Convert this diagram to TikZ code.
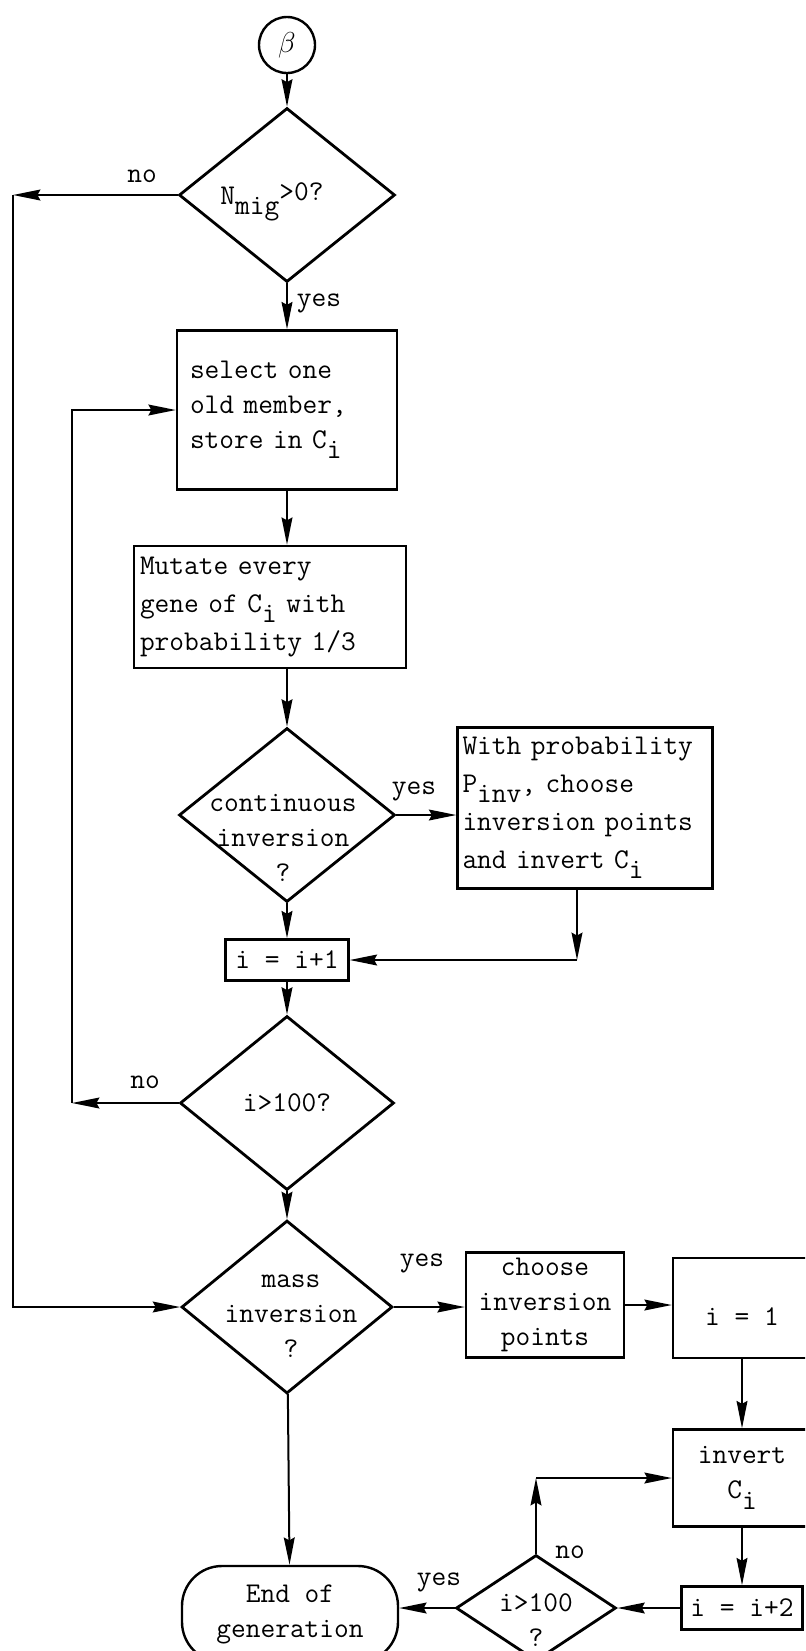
\documentclass[tikz,border=0pt]{standalone}
\usepackage{fontspec}
\usepackage{tikz}
\usetikzlibrary{arrows.meta,shapes.geometric}
\newcommand{\lowidx}[1]{\raisebox{-0.85ex}{#1}}
\tikzset{
	pbox/.style={draw=black,line width=1.2pt,rectangle,inner sep=0pt},
	dbox/.style={draw=black,line width=1.4pt,diamond,inner sep=0pt},
	ptext/.style={font=\ttfamily\fontsize{14.3}{17.5}\selectfont,inner sep=0pt},
	wtext/.style={font=\ttfamily\fontsize{14.3}{19}\selectfont},
	flowarrow/.style={-{Stealth[length=4.8mm,width=1.9mm,inset=0.5mm]},line width=1pt}
}

\begin{document}
\begin{tikzpicture}[x=0.5pt,y=-0.5pt,
			lbl/.style={ptext,align=center}]
			\useasboundingbox (0,0) rectangle (805,1651);
			\clip (0,0) rectangle (805,1651);
			\node[draw,circle,line width=1.2pt,minimum size=28pt,inner sep=0pt,font=\fontsize{14.3}{17}\selectfont] (beta) at (287,45) {$\beta$};
			\node[dbox,minimum width=108pt,minimum height=87pt] (mig) at (287,195) {};
			\node[lbl] (migt) at (272,202) {N\lowidx{mig}\raisebox{0.3ex}{>0?}};
			\node[pbox,ptext,align=left,text width=97pt,inner xsep=6.5pt,minimum height=79.5pt] (sel) at (287,410) {select one\\old member,\\store in C\lowidx{i}};
			\node[pbox,ptext,wtext,align=left,text width=130pt,inner xsep=3pt,minimum height=61pt] (mut) at (270,607) {Mutate every\\gene of C\lowidx{i} with\\probability 1/3};
			\node[dbox,minimum width=108pt,minimum height=87pt] (cont) at (287,815) {};
			\node[lbl] (contt) at (283,838) {continuous\\inversion\\?};
			\node[pbox,ptext,wtext,align=left,text width=122.5pt,inner xsep=2.5pt,minimum height=80.5pt] (pinv) at (585,808) {With probability\\P\lowidx{inv}, choose\\inversion points\\and invert C\lowidx{i}};
			\node[pbox,ptext,minimum width=61.5pt,minimum height=20.5pt] (inc) at (287,960) {i = i+1};
			\node[dbox,minimum width=107pt,minimum height=87pt] (lim) at (287,1103) {};
			\node[lbl] (limt) at (287,1103) {i>100?};
			\node[dbox,minimum width=105.5pt,minimum height=86.5pt] (mass) at (287,1307) {};
			\node[lbl] (masst) at (291,1316) {mass\\inversion\\?};
			\node[pbox,ptext,align=center,minimum width=79pt,minimum height=52.5pt] (cho) at (545,1305) {choose\\inversion\\points};
			\node[pbox,ptext,align=center,minimum width=69pt,minimum height=50pt] (one) at (742,1308) {\mbox{}\\i = 1};
			\node[pbox,ptext,align=center,minimum width=69pt,minimum height=48.5pt] (inv) at (742,1478) {invert\\C\lowidx{i}};
			\node[pbox,ptext,minimum width=60.5pt,minimum height=21.5pt] (inc2) at (742,1608) {i = i+2};
			\node[dbox,minimum width=80pt,minimum height=53pt] (lim2) at (536,1608) {};
			\node[lbl] (lim2t) at (536,1620) {i>100\\?};
			\node[pbox,ptext,align=center,rounded corners=20pt,minimum width=108pt,minimum height=48pt] (stop) at (290,1614) {End of\\generation};
			\coordinate (cL0) at (13,195);
			\coordinate (cL1) at (72,1103);
			\coordinate (c3) at (577,960);
			\coordinate (cN) at (536,1478);
			\draw[flowarrow] (beta) -- (mig);
			\draw[flowarrow] (mig) -- (sel);
			\draw[flowarrow] (sel.south) -- (sel.south |- mut.north);
			\draw[flowarrow] (cont.north |- mut.south) -- (cont.north);
			\draw[flowarrow] (cont.east) -- (cont.east -| pinv.west);
			\draw[flowarrow] (c3 |- pinv.south) -- (c3);
			\draw[flowarrow] (c3) -- (inc.east);
			\draw[flowarrow] (cont) -- (inc);
			\draw[flowarrow] (inc) -- (lim);
			\draw[flowarrow] (lim.west) -- (cL1);
			\draw[flowarrow] (cL1) |- (sel.west);
			\draw[flowarrow] (mig.west) -- (cL0);
			\draw[flowarrow] (cL0) |- (mass.west);
			\draw[flowarrow] (lim) -- (mass);
			\draw[flowarrow] (mass.east) -- (mass.east -| cho.west);
			\draw[flowarrow] (cho.east) -- (cho.east -| one.west);
			\draw[flowarrow] (one) -- (inv);
			\draw[flowarrow] (inv) -- (inc2);
			\draw[flowarrow] (inc2) -- (lim2);
			\draw[flowarrow] (lim2.north) -- (cN);
			\draw[flowarrow] (cN) -- (inv.west);
			\draw[flowarrow] (lim2.west) -- (lim2.west -| stop.east);
			\draw[flowarrow] (mass) -- (stop);
			\node[lbl] (no1) at (142,176) {no};
			\node[lbl] (yes1) at (319,303) {yes};
			\node[lbl] (yes2) at (414,791) {yes};
			\node[lbl] (no2) at (145,1082) {no};
			\node[lbl] (yes3) at (422,1263) {yes};
			\node[lbl] (no3) at (570,1552) {no};
			\node[lbl] (yes4) at (439,1582) {yes};
		\end{tikzpicture}
\end{document}
